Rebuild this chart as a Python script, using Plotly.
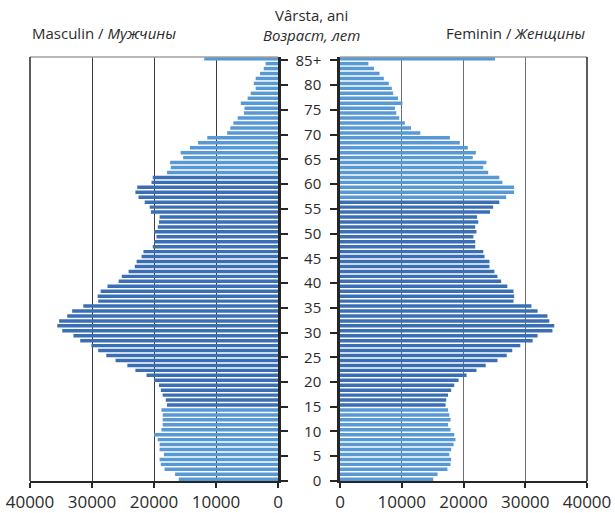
import plotly.graph_objects as go

ages = list(range(86))
age_tick_values = list(range(0, 86, 5))
age_tick_labels = [str(a) for a in range(0, 85, 5)] + ["85+"]

male = [16000, 16600, 18300, 18900, 19100, 18400, 19100, 19100, 19400, 20000,
        18800, 18600, 18600, 18600, 18800, 17900, 18100, 18600, 18900, 19200,
        20000, 21200, 23000, 24300, 26200, 27700, 29000, 30100, 31900, 33000,
        34800, 35600, 35300, 34000, 33200, 31400, 29000, 29100, 28600, 27500,
        25700, 25200, 24100, 23100, 22800, 22000, 21700, 20200, 20000, 19600,
        20000, 19400, 19200, 19100, 20500, 20700, 21500, 22500, 23000, 22700,
        20400, 20200, 17900, 17300, 17400, 15300, 15700, 14200, 12900, 11400,
        8200, 7700, 7200, 6500, 5500, 5400, 6000, 4900, 4400, 3600,
        3900, 3600, 2900, 2300, 2000, 11900]

female = [15100, 15800, 17400, 17900, 18000, 17700, 18000, 18400, 18700, 18500,
          17900, 17500, 17900, 17700, 17500, 17100, 17200, 17500, 18000, 18500,
          19200, 20500, 22100, 23600, 25500, 27000, 27900, 29200, 31200, 32000,
          34400, 34700, 33900, 33600, 32000, 31000, 28100, 28200, 28100, 27100,
          26100, 25500, 25000, 24200, 24200, 23400, 23200, 21900, 21900, 21600,
          22100, 21900, 22400, 22200, 24300, 24800, 25800, 26900, 28200, 28200,
          26300, 25800, 24000, 23200, 23700, 21500, 22000, 20700, 19400, 17800,
          13000, 11500, 10500, 9600, 9100, 8900, 10100, 9400, 8600, 8400,
          7900, 7100, 6400, 5500, 4600, 25100]

x_ticks = [0, 10000, 20000, 30000, 40000]

# working-age bounds (dark colour)
male_work = (15, 61)
female_work = (15, 56)

DARK = "#3A6FB6"
LIGHT = "#5799D4"

male_colors = [DARK if male_work[0] <= a <= male_work[1] else LIGHT for a in ages]
female_colors = [DARK if female_work[0] <= a <= female_work[1] else LIGHT for a in ages]

W, H = 615, 513
ML, MR, MT, MB = 30, 28, 57, 32
pw = W - ML - MR
ph = H - MT - MB

def px_x(p):
    return (p - ML) / pw

def px_y(p):
    return (H - MB - p) / ph

FONT = "Open Sans"
TXT = "#2b2b2b"

fig = go.Figure()
fig.add_trace(go.Bar(x=male, y=ages, orientation="h", marker=dict(color=male_colors, line=dict(width=0)),
                     xaxis="x", yaxis="y", showlegend=False, hoverinfo="skip"))
fig.add_trace(go.Bar(x=female, y=ages, orientation="h", marker=dict(color=female_colors, line=dict(width=0)),
                     xaxis="x2", yaxis="y2", showlegend=False, hoverinfo="skip"))

yr = [-0.36, 85.34]
tickpos = [a - 0.35 for a in age_tick_values]

fig.update_layout(
    width=W, height=H,
    margin=dict(l=ML, r=MR, t=MT, b=MB, autoexpand=False),
    paper_bgcolor="white", plot_bgcolor="white",
    bargap=0.3,
    font=dict(family=FONT, color=TXT),
    xaxis=dict(domain=[0, px_x(278)], range=[40000, 0], tickvals=x_ticks,
               ticktext=[str(v) for v in x_ticks], tickfont=dict(size=17, color=TXT),
               ticks="outside", ticklen=5, tickcolor="#262626", tickwidth=1.5,
               showline=True, linecolor="#262626", linewidth=1.5,
               showgrid=True, gridcolor="#3c3c3c", gridwidth=1.3, zeroline=False, anchor="y"),
    xaxis2=dict(domain=[px_x(340), 1], range=[0, 40000], tickvals=x_ticks,
                ticktext=[str(v) for v in x_ticks], tickfont=dict(size=17, color=TXT),
                ticks="outside", ticklen=5, tickcolor="#262626", tickwidth=1.5,
                showline=True, linecolor="#262626", linewidth=1.5,
                showgrid=True, gridcolor="#6e6e6e", gridwidth=1.3, zeroline=False, anchor="y2"),
    yaxis=dict(domain=[0, 1], range=yr, anchor="x", side="right",
               tickvals=tickpos, showticklabels=False, ticks="outside", ticklen=7,
               tickwidth=2, tickcolor="#262626",
               showline=True, linecolor="#262626", linewidth=2.5,
               showgrid=False, zeroline=False),
    yaxis2=dict(domain=[0, 1], range=yr, anchor="x2", side="left",
                tickvals=tickpos, ticktext=age_tick_labels, tickfont=dict(size=15, color=TXT),
                ticks="outside", ticklen=7, tickwidth=2, tickcolor="#262626",
                ticklabelstandoff=6,
                showline=True, linecolor="#262626", linewidth=2.5,
                showgrid=False, zeroline=False),
)

# frame lines: top (grey) and outer sides (thin dark)
for x0, x1 in [(0, px_x(278)), (px_x(340), 1)]:
    fig.add_shape(type="line", xref="paper", yref="paper", x0=x0, x1=x1, y0=1, y1=1,
                  line=dict(color="#a0a0a0", width=1.5))
for xs in [0, 1]:
    fig.add_shape(type="line", xref="paper", yref="paper", x0=xs, x1=xs, y0=0, y1=1,
                  line=dict(color="#262626", width=1.5))

ann = [
    dict(text="Masculin / <i>Мужчины</i>", x=px_x(30), y=px_y(33), xanchor="left"),
    dict(text="Vârsta, ani<br><i>Возраст, лет</i>", x=px_x(311), y=px_y(25), xanchor="center"),
    dict(text="Feminin / <i>Женщины</i>", x=px_x(587), y=px_y(33), xanchor="right"),
]
for a in ann:
    fig.add_annotation(xref="paper", yref="paper", showarrow=False, yanchor="middle",
                       font=dict(size=15, family=FONT, color=TXT), **a)

fig.write_html("out.html", config={"displayModeBar": False},
               post_script="document.body.style.margin='0';document.body.style.padding='0';document.body.style.overflow='hidden';")
